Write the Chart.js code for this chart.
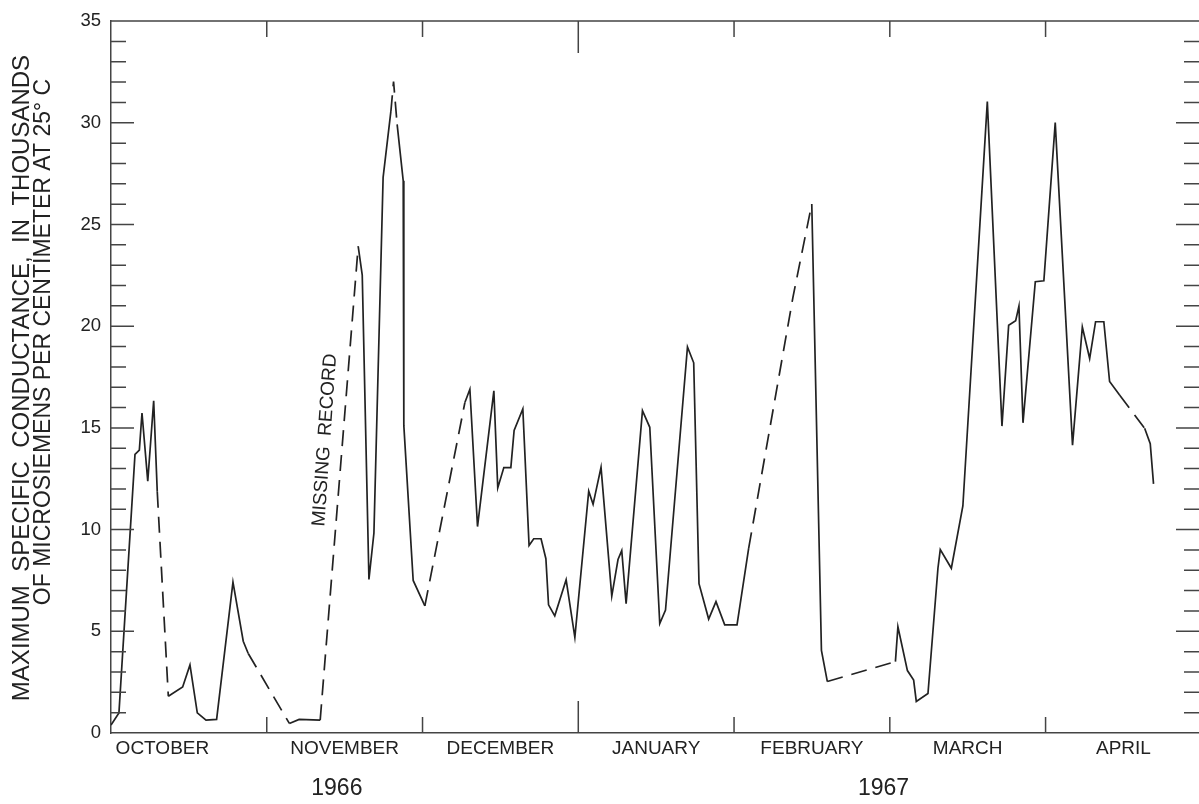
<!DOCTYPE html>
<html lang="en">
<head>
<meta charset="UTF-8">
<title>Maximum specific conductance, October 1966 - April 1967</title>
<script src="https://cdn.jsdelivr.net/npm/chart.js"></script>
<style>
  body { margin: 0; background: #fff; }
  canvas { display: block; }
</style>
</head>
<body>
<canvas id="chart" width="1199" height="804"></canvas>
<script>
// x = months after Oct 1, 1966 (every month is drawn the same width, as on the original)
const xMonth = [0.000, 0.051, 0.154, 0.182, 0.199, 0.236, 0.274, 0.297, 0.368, 0.460,
  0.507, 0.554, 0.610, 0.678, 0.783, 0.849, 0.881, 1.145, 1.208, 1.343,
  1.587, 1.613, 1.656, 1.688, 1.747, 1.797, 1.814, 1.837, 1.876, 1.880,
  1.940, 2.015, 2.272, 2.304, 2.353, 2.458, 2.483, 2.522, 2.567, 2.588,
  2.644, 2.684, 2.714, 2.761, 2.792, 2.809, 2.849, 2.922, 2.978, 3.067,
  3.095, 3.146, 3.215, 3.255, 3.279, 3.307, 3.412, 3.459, 3.523, 3.560,
  3.701, 3.741, 3.775, 3.837, 3.884, 3.940, 4.019, 4.094, 4.378, 4.499,
  4.561, 4.599, 5.036, 5.052, 5.113, 5.153, 5.170, 5.245, 5.309, 5.324,
  5.395, 5.469, 5.626, 5.720, 5.763, 5.808, 5.829, 5.855, 5.934, 5.989,
  6.062, 6.173, 6.236, 6.283, 6.321, 6.374, 6.411, 6.475, 6.636, 6.672, 6.693];

// thousands of microsiemens per cm at 25 C
const conductance = [0.39, 0.99, 13.70, 13.91, 15.73, 12.38, 16.33, 11.86, 1.81, 2.26,
  3.35, 0.99, 0.63, 0.67, 7.42, 4.51, 3.91, 0.47, 0.67, 0.63,
  23.93, 22.51, 7.55, 9.83, 27.32, 30.57, 32.03, 29.92, 27.15, 15.11,
  7.50, 6.25, 16.25, 16.90, 10.15, 16.82, 12.05, 13.05, 13.05, 14.87,
  15.93, 9.22, 9.55, 9.55, 8.57, 6.30, 5.76, 7.53, 4.70, 11.89,
  11.24, 13.06, 6.73, 8.53, 8.97, 6.36, 15.85, 15.03, 5.38, 6.04,
  18.98, 18.20, 7.34, 5.60, 6.46, 5.32, 5.32, 9.09, 21.42, 26.01,
  4.06, 2.53, 3.51, 5.22, 3.07, 2.60, 1.55, 1.94, 8.10, 9.02,
  8.10, 11.16, 31.04, 15.09, 20.05, 20.27, 20.99, 15.25, 22.19, 22.23,
  30.01, 14.15, 19.96, 18.41, 20.22, 20.22, 17.28, 16.62, 14.98, 14.22, 12.25];

// record is missing between point i and i+1 -> dashed
const missingAfter = [7, 16, 19, 25, 26, 31, 67, 68, 71, 97];

const monthNames = ['OCTOBER', 'NOVEMBER', 'DECEMBER', 'JANUARY', 'FEBRUARY', 'MARCH', 'APRIL'];
const monthLabelAt = [0.33, 1.5, 2.5, 3.5, 4.5, 5.5, 6.5];
const monthStarts = [1, 2, 3, 4, 5, 6];
const yearNames = ['1966', '1967'];
const yearLabelAt = [1.45, 4.96];

const ink = '#222';
const axisInk = '#444';
const font = 'Arial, "Liberation Sans", sans-serif';

const frame = {
  id: 'frame',
  afterDatasetsDraw(chart) {
    const { ctx, chartArea: a, scales: { x, y } } = chart;
    ctx.save();
    ctx.strokeStyle = axisInk;
    ctx.lineWidth = 1.5;
    ctx.beginPath();
    ctx.moveTo(a.left, a.top);
    ctx.lineTo(a.right, a.top);
    for (let v = 1; v < 35; v++) {
      const py = y.getPixelForValue(v);
      const len = v % 5 === 0 ? 23 : 15;
      ctx.moveTo(a.left, py); ctx.lineTo(a.left + len, py);
      ctx.moveTo(a.right, py); ctx.lineTo(a.right - len, py);
    }
    monthStarts.forEach(m => {
      const px = x.getPixelForValue(m);
      const len = m === 3 ? 32 : 16;   // Jan 1 = new year, longer tick
      ctx.moveTo(px, a.bottom); ctx.lineTo(px, a.bottom - len);
      ctx.moveTo(px, a.top); ctx.lineTo(px, a.top + len);
    });
    ctx.stroke();

    ctx.fillStyle = ink;
    ctx.textAlign = 'center';
    ctx.textBaseline = 'middle';

    // y axis title, two lines
    ctx.save();
    ctx.font = '24px ' + font;
    ctx.translate(22, 378);
    ctx.rotate(-Math.PI / 2);
    ctx.fillText('MAXIMUM  SPECIFIC  CONDUCTANCE,  IN  THOUSANDS', 0, 0);
    ctx.restore();
    ctx.save();
    ctx.font = '23px ' + font;
    ctx.translate(44, 342);
    ctx.rotate(-Math.PI / 2);
    ctx.fillText('OF MICROSIEMENS PER CENTIMETER AT 25° C', 0, 0);
    ctx.restore();

    // note along the dashed line
    ctx.save();
    ctx.font = '19px ' + font;
    ctx.translate(325, 440);
    ctx.rotate(-Math.PI / 2 + 0.07);
    ctx.fillText('MISSING  RECORD', 0, 0);
    ctx.restore();

    ctx.restore();
  }
};

new Chart(document.getElementById('chart'), {
  type: 'line',
  data: {
    datasets: [{
      data: xMonth.map((m, i) => ({ x: m, y: conductance[i] })),
      borderColor: ink,
      borderWidth: 1.7,
      pointRadius: 0,
      tension: 0,
      fill: false,
      segment: {
        borderDash: c => missingAfter.includes(c.p0DataIndex) ? [16, 9] : undefined
      }
    }]
  },
  options: {
    responsive: false,
    animation: false,
    layout: { padding: { top: 16, left: 0, right: 0, bottom: 0 } },
    plugins: { legend: { display: false }, tooltip: { enabled: false } },
    scales: {
      x: {
        type: 'linear', position: 'bottom', min: 0, max: 6.985,
        grid: { display: false, drawTicks: false },
        border: { display: true, color: axisInk, width: 1.5 },
        afterBuildTicks: s => { s.ticks = monthLabelAt.map(v => ({ value: v })); },
        afterFit: s => { s.height = 30; },
        ticks: {
          autoSkip: false, maxRotation: 0, padding: 4, color: ink,
          font: { family: font, size: 19 },
          callback: (v, i) => monthNames[i]
        }
      },
      x2: {
        type: 'linear', position: 'bottom', min: 0, max: 6.985,
        grid: { display: false, drawTicks: false },
        border: { display: false },
        afterBuildTicks: s => { s.ticks = yearLabelAt.map(v => ({ value: v })); },
        afterFit: s => { s.height = 41; },
        ticks: {
          autoSkip: false, maxRotation: 0, padding: 12, color: ink,
          font: { family: font, size: 23 },
          callback: (v, i) => yearNames[i]
        }
      },
      y: {
        min: 0, max: 35,
        grid: { display: false, drawTicks: false },
        border: { display: true, color: axisInk, width: 1.5 },
        afterFit: s => { s.width = 111; },
        ticks: {
          stepSize: 5, padding: 10, color: ink,
          font: { family: font, size: 18.5 }
        }
      }
    }
  },
  plugins: [frame]
});
</script>
</body>
</html>
